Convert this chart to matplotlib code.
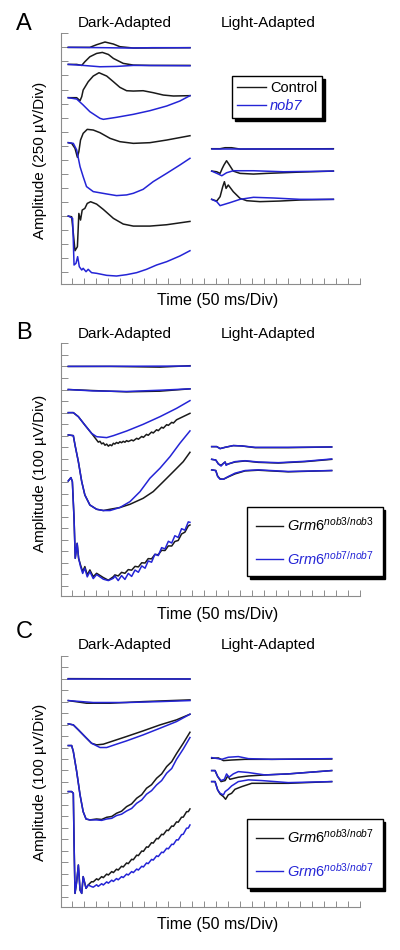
import matplotlib
matplotlib.use('Agg')
import matplotlib.pyplot as plt
from matplotlib.lines import Line2D

plt.rcParams['font.family'] = ['Liberation Sans', 'DejaVu Sans']
plt.rcParams['mathtext.fontset'] = 'custom'
plt.rcParams['mathtext.rm'] = 'Liberation Sans'
plt.rcParams['mathtext.it'] = 'Liberation Sans:italic'

BLACK = '#1a1a1a'
BLUE = '#2424d6'
AXC = '#8c8c8c'

# ---------------- data (time in ms from trace start, amplitude in uV re: baseline)
MS_PER_DIV = 50
DARK_X0 = 0.69    # trace start (time divisions)
LIGHT_X0 = 12.64

# ----- Panel A (250 uV/Div)
A_SCALE = 250
A_dark_base = [17.0, 15.74, 13.42, 10.22, 5.0]
A_light_base = [9.79, 8.20, 6.19]
A_dark_control = [
    ([0, 90, 118, 153, 188, 215, 271, 507], [0, 0, 47, 95, 59, 12, -12, -6]),
    ([0, 35, 56, 69, 90, 118, 142, 167, 188, 229, 271, 340, 507],
     [12, 12, -6, 59, 148, 207, 225, 189, 118, 30, 0, -6, -6]),
    ([0, 35, 49, 56, 62, 83, 104, 128, 160, 188, 215, 243, 271, 312, 354, 396, 438, 507],
     [0, 0, -53, 18, 136, 284, 385, 444, 385, 284, 184, 124, 118, 124, 89, 47, 30, 36]),
    ([0, 14, 28, 38, 44, 51, 62, 79, 104, 132, 174, 215, 271, 340, 410, 507],
     [0, -12, -101, -260, -160, 47, 166, 237, 225, 178, 77, 18, -12, 0, 47, 124]),
    ([0, 14, 21, 28, 38, 44, 51, 58, 69, 79, 93, 118, 146, 188, 229, 271, 340, 410, 507],
     [0, -12, -308, -616, -545, 47, -71, 107, 136, 225, 255, 213, 118, -41, -142, -178, -178, -154, -95]),
]
A_dark_nob7 = [
    ([0, 150, 250, 350, 507], [0, -6, -12, -6, -6]),
    ([0, 62, 132, 201, 271, 507], [12, -6, -30, -24, -6, -12]),
    ([0, 35, 62, 90, 132, 146, 201, 271, 340, 410, 465, 507],
     [0, -24, -130, -249, -367, -385, -349, -296, -231, -148, -59, 36]),
    ([0, 21, 35, 49, 62, 76, 104, 160, 201, 243, 271, 312, 354, 410, 465, 507],
     [0, -12, -130, -426, -604, -781, -870, -912, -941, -929, -900, -829, -692, -545, -397, -278]),
    ([0, 18, 24, 32, 39, 46, 56, 62, 74, 83, 97, 118, 160, 201, 243, 285, 326, 368, 410, 465, 507],
     [0, -41, -870, -841, -722, -900, -959, -929, -989, -947, -1006, -1018, -1054, -1066, -1042,
      -1006, -947, -870, -811, -710, -616]),
]
A_light_control = [
    ([0, 35, 56, 83, 118, 507], [0, 0, 18, 18, -6, 0]),
    ([0, 21, 35, 44, 51, 62, 74, 90, 118, 174, 229, 368, 507],
     [0, -12, -41, 47, 107, 184, 107, 0, -41, -53, -41, -18, 0]),
    ([0, 21, 35, 46, 53, 60, 69, 90, 118, 146, 201, 285, 368, 507],
     [0, -30, 47, 225, 314, 195, 255, 136, 18, -24, -41, -30, -12, 0]),
]
A_light_nob7 = [
    ([0, 507], [0, 0]),
    ([0, 28, 42, 62, 90, 174, 299, 507], [0, -53, -83, -30, 6, 6, -12, 0]),
    ([0, 21, 35, 76, 118, 174, 257, 368, 507], [0, -41, -112, -59, 0, 36, 24, 0, 0]),
]

# ----- Panel B (100 uV/Div)
B_SCALE = 100
B_dark_base = [20.0, 18.0, 16.0, 14.07, 10.09]
B_light_base = [13.06, 11.96, 11.05]
B_dark_nob3 = [
    ([0, 174, 382, 507], [0, 0, -6, 6]),
    ([0, 104, 243, 382, 507], [0, -9, -20, -14, 6]),
    ([0, 21, 42, 69, 97, 118, 125, 132, 139, 146, 153, 160, 167, 174, 181, 188, 194, 201, 208, 215,
      222, 229, 236, 243, 250, 264, 271, 285, 292, 306, 313, 326, 333, 347, 354, 368, 375, 389, 396,
      410, 417, 431, 438, 451, 465, 479, 507],
     [0, 0, -35, -107, -179, -236, -255, -248, -270, -262, -282, -272, -290, -278, -286, -265, -272,
      -258, -266, -252, -260, -248, -256, -242, -250, -236, -244, -222, -230, -206, -214, -188, -196,
      -168, -176, -148, -156, -126, -134, -104, -110, -84, -90, -62, -48, -34, -6]),
    ([0, 21, 28, 42, 56, 69, 90, 118, 146, 174, 215, 257, 312, 354, 396, 438, 479, 507],
     [0, -6, -87, -231, -404, -519, -606, -643, -654, -643, -628, -600, -548, -490, -404, -317, -231, -150]),
    ([0, 11, 17, 24, 29, 37, 43, 51, 60, 69, 79, 90, 104, 118, 146, 167, 188, 194, 208, 222, 236, 250,
      264, 278, 292, 306, 320, 333, 347, 361, 375, 389, 403, 417, 431, 444, 458, 472, 486, 500, 507],
     [0, 29, -6, -323, -669, -540, -669, -727, -784, -741, -813, -770, -828, -799, -836, -859, -828,
      -813, -822, -791, -799, -767, -772, -739, -744, -708, -710, -672, -674, -636, -638, -600, -602,
      -562, -563, -524, -515, -459, -443, -389, -381]),
]
B_dark_nob7 = [
    ([0, 507], [0, 3]),
    ([0, 104, 243, 382, 507], [0, -12, -17, -6, 6]),
    ([0, 21, 42, 69, 97, 118, 160, 188, 243, 312, 382, 451, 507],
     [0, 0, -35, -107, -179, -208, -216, -199, -159, -101, -35, 37, 104]),
    ([0, 21, 28, 42, 56, 69, 90, 118, 146, 174, 215, 257, 299, 340, 382, 424, 465, 507],
     [0, -6, -87, -231, -404, -519, -606, -643, -654, -654, -628, -577, -490, -375, -288, -187, -72, 35]),
    ([0, 11, 17, 24, 29, 37, 43, 51, 60, 69, 79, 90, 104, 118, 146, 167, 188, 194, 208, 222, 236,
      250, 264, 278, 292, 306, 320, 333, 347, 361, 375, 389, 403, 417, 431, 444, 458, 472, 486, 500, 507],
     [0, 29, -6, -323, -669, -540, -669, -740, -800, -755, -830, -785, -845, -810, -850, -862, -842,
      -822, -862, -819, -852, -800, -826, -771, -790, -735, -755, -692, -703, -634, -646, -577, -588,
      -522, -537, -474, -489, -413, -426, -354, -358]),
]
B_light_nob3 = [
    ([0, 21, 35, 56, 90, 125, 181, 319, 500], [0, 0, -17, -6, 9, 6, -9, -9, -3]),
    ([0, 17, 28, 39, 49, 56, 60, 69, 97, 139, 194, 278, 389, 500],
     [0, -6, -40, -52, -35, -23, -46, -40, -23, -14, -26, -32, -20, 0]),
    ([0, 17, 25, 35, 49, 69, 97, 139, 194, 319, 500], [0, -6, -55, -78, -81, -61, -35, -9, -3, -17, -6]),
]
B_light_nob7 = [
    ([0, 21, 35, 56, 90, 125, 181, 319, 500], [0, 0, -17, -6, 9, 6, -6, -6, -3]),
    ([0, 17, 28, 39, 49, 56, 60, 69, 97, 139, 194, 278, 389, 500],
     [0, -6, -40, -58, -35, -23, -52, -40, -20, -12, -23, -29, -17, 3]),
    ([0, 17, 25, 35, 49, 69, 97, 139, 194, 319, 500], [0, -6, -58, -81, -81, -58, -29, -6, 0, -14, -6]),
]

# ----- Panel C (100 uV/Div)
C_SCALE = 100
C_dark_base = [20.0, 18.09, 16.06, 14.17, 10.16]
C_light_base = [13.06, 11.99, 11.03]
C_dark_black = [
    ([0, 507], [0, -3]),
    ([0, 76, 174, 312, 507], [0, -23, -23, -9, 6]),
    ([0, 21, 42, 69, 97, 118, 146, 188, 243, 312, 382, 451, 507],
     [0, -9, -52, -110, -169, -183, -177, -148, -110, -61, -9, 35, 84]),
    ([0, 14, 21, 35, 49, 62, 74, 90, 118, 139, 160, 181, 201, 222, 243, 264, 285, 306, 326, 347, 368,
      389, 410, 431, 451, 479, 507],
     [0, 0, -52, -227, -430, -576, -640, -648, -640, -644, -625, -618, -590, -572, -532, -508, -459,
      -428, -372, -341, -285, -247, -183, -140, -70, 20, 116]),
    ([0, 14, 21, 24, 28, 35, 42, 49, 56, 62, 74, 83, 97, 104, 118, 125, 139, 146, 160, 167, 181, 188,
      201, 208, 222, 229, 243, 250, 264, 271, 285, 292, 306, 313, 326, 333, 347, 354, 368, 375, 389,
      396, 410, 417, 431, 438, 451, 458, 472, 479, 493, 500, 507],
     [0, 0, -15, -436, -887, -785, -640, -858, -887, -741, -843, -814, -785, -787, -760, -770, -741,
      -750, -719, -727, -697, -706, -676, -684, -651, -657, -622, -628, -590, -594, -554, -558, -518,
      -521, -482, -485, -445, -449, -408, -412, -372, -376, -336, -340, -300, -303, -264, -267, -223,
      -223, -175, -175, -151]),
]
C_dark_blue = [
    ([0, 507], [0, 0]),
    ([0, 104, 243, 382, 507], [0, -17, -17, -9, 0]),
    ([0, 21, 42, 69, 97, 132, 160, 201, 243, 312, 382, 451, 507],
     [0, -9, -52, -110, -169, -206, -206, -177, -148, -96, -38, 20, 84]),
    ([0, 14, 21, 35, 49, 62, 74, 90, 118, 139, 160, 181, 201, 222, 243, 264, 285, 306, 326, 347, 368,
      389, 410, 431, 451, 479, 507],
     [0, 0, -52, -227, -430, -576, -640, -648, -648, -652, -640, -634, -610, -598, -570, -548, -503,
      -474, -424, -393, -343, -305, -241, -200, -120, -30, 70]),
    ([0, 14, 21, 24, 28, 35, 42, 49, 56, 62, 74, 83, 97, 104, 118, 125, 139, 146, 160, 167, 181, 188,
      201, 208, 222, 229, 243, 250, 264, 271, 285, 292, 306, 313, 326, 333, 347, 354, 368, 375, 389,
      396, 410, 417, 431, 438, 451, 458, 472, 479, 493, 500, 507],
     [0, 0, -15, -436, -887, -785, -640, -858, -887, -741, -843, -814, -828, -833, -812, -826, -803,
      -814, -787, -798, -772, -783, -758, -769, -741, -749, -719, -727, -697, -706, -675, -684, -651,
      -657, -622, -628, -591, -597, -560, -566, -528, -532, -494, -499, -459, -461, -420, -422, -375,
      -372, -319, -318, -291]),
]
C_light_black = [
    ([0, 28, 49, 83, 139, 250, 500], [0, 3, -20, -15, -9, -9, -6]),
    ([0, 14, 25, 39, 56, 67, 76, 111, 153, 222, 319, 500],
     [0, 0, -52, -96, -87, -47, -76, -58, -47, -38, -29, 0]),
    ([0, 14, 25, 35, 49, 58, 69, 83, 97, 125, 167, 222, 319, 500],
     [0, 0, -73, -108, -131, -154, -116, -102, -67, -44, -15, -15, -15, 0]),
]
C_light_blue = [
    ([0, 42, 69, 111, 153, 250, 500], [6, -9, 9, 15, -3, -9, -3]),
    ([0, 14, 25, 39, 53, 62, 72, 90, 111, 153, 222, 319, 500],
     [0, 0, -52, -87, -76, -29, -58, -29, -9, -17, -38, -29, 0]),
    ([0, 14, 25, 35, 49, 56, 69, 83, 111, 153, 208, 319, 500],
     [0, 0, -73, -102, -116, -87, -67, -38, 0, 15, 9, -9, 0]),
]

# ---------------- figure
W, H = 400, 950
fig = plt.figure(figsize=(4.0, 9.5), dpi=100)


def px_axes(left, top, right, bottom):
    return fig.add_axes([left / W, 1 - bottom / H, (right - left) / W, (bottom - top) / H])


def draw(ax, traces, bases, x0, scale, color, z):
    for (t, a), b in zip(traces, bases):
        ax.plot([x0 + ti / MS_PER_DIV for ti in t], [b + ai / scale for ai in a],
                color=color, lw=1.1, zorder=z, solid_joinstyle='round')


def style(ax, ymin, ymax, nyt):
    ax.set_xlim(0.083, 25)
    ax.set_ylim(ymin, ymax)
    ax.set_xticks(range(1, 26))
    ax.set_yticks(range(1, nyt + 1))
    ax.set_xticklabels([])
    ax.set_yticklabels([])
    for s in ('top', 'right'):
        ax.spines[s].set_visible(False)
    for s in ('left', 'bottom'):
        ax.spines[s].set_color(AXC)
        ax.spines[s].set_linewidth(0.8)
    ax.tick_params(axis='x', direction='in', length=4, width=0.7, color=AXC)
    ax.tick_params(axis='y', direction='in', length=5, width=0.7, color=AXC)
    ax.patch.set_visible(False)


def labels(top_y, letter_y, amp_text, amp_cy, time_cy):
    fig.text(16 / W, 1 - letter_y / H, top_y[0], fontsize=17, ha='left', va='baseline')
    fig.text(125 / W, 1 - top_y[1] / H, 'Dark-Adapted', fontsize=11, ha='center', va='baseline')
    fig.text(268 / W, 1 - top_y[1] / H, 'Light-Adapted', fontsize=11, ha='center', va='baseline')
    fig.text(40 / W, 1 - amp_cy / H, amp_text, fontsize=11, rotation=90, ha='center', va='center')
    fig.text(218 / W, 1 - time_cy / H, 'Time (50 ms/Div)', fontsize=11.5, ha='center', va='center')


def legend(ax, labels_, anchor, fs, hl, ls, bp):
    handles = [Line2D([], [], color=BLACK, lw=1.0), Line2D([], [], color=BLUE, lw=1.0)]
    leg = ax.legend(handles, labels_, loc='upper left', bbox_to_anchor=anchor, frameon=True,
                    fancybox=False, shadow={'facecolor': 'black', 'edgecolor': 'black', 'alpha': 1.0},
                    fontsize=fs, handlelength=hl, handletextpad=0.25, labelspacing=ls,
                    borderpad=bp, borderaxespad=0, framealpha=1.0)
    leg.get_frame().set_edgecolor('black')
    leg.get_frame().set_linewidth(1.0)
    leg.get_texts()[1].set_color(BLUE)
    leg.set_zorder(10)
    return leg


# Panel A
axA = px_axes(61, 33.3, 360, 284.3)
style(axA, 0.147, 18.0, 18)
draw(axA, A_dark_control, A_dark_base, DARK_X0, A_SCALE, BLACK, 2)
draw(axA, A_dark_nob7, A_dark_base, DARK_X0, A_SCALE, BLUE, 3)
draw(axA, A_light_control, A_light_base, LIGHT_X0, A_SCALE, BLACK, 2)
draw(axA, A_light_nob7, A_light_base, LIGHT_X0, A_SCALE, BLUE, 3)
legA = legend(axA, ['Control', 'nob7'], ((232 - 61) / 299, 1 - (76 - 33.3) / 251), 10.5, 2.0, 0.25, 0.35)
legA.get_texts()[1].set_style('italic')
labels(('A', 27), 30, 'Amplitude (250 \u00b5V/Div)', 160, 301)

# Panel B
axB = px_axes(61, 343.3, 360, 596)
style(axB, 0.135, 22.0, 22)
draw(axB, B_dark_nob3, B_dark_base, DARK_X0, B_SCALE, BLACK, 2)
draw(axB, B_dark_nob7, B_dark_base, DARK_X0, B_SCALE, BLUE, 3)
draw(axB, B_light_nob3, B_light_base, LIGHT_X0, B_SCALE, BLACK, 2)
draw(axB, B_light_nob7, B_light_base, LIGHT_X0, B_SCALE, BLUE, 3)
legend(axB, [r'$\mathit{Grm6}^{\mathit{nob3/nob3}}$', r'$\mathit{Grm6}^{\mathit{nob7/nob7}}$'],
       ((247 - 61) / 299, 1 - (507 - 343.3) / 252.7), 10.5, 1.9, 1.1, 0.6)
labels(('B', 338), 339, 'Amplitude (100 \u00b5V/Div)', 473, 614)

# Panel C
axC = px_axes(61, 655.7, 360, 907.3)
style(axC, 0.076, 22.0, 22)
draw(axC, C_dark_black, C_dark_base, DARK_X0, C_SCALE, BLACK, 2)
draw(axC, C_dark_blue, C_dark_base, DARK_X0, C_SCALE, BLUE, 3)
draw(axC, C_light_black, C_light_base, LIGHT_X0, C_SCALE, BLACK, 2)
draw(axC, C_light_blue, C_light_base, LIGHT_X0, C_SCALE, BLUE, 3)
legend(axC, [r'$\mathit{Grm6}^{\mathit{nob3/nob7}}$', r'$\mathit{Grm6}^{\mathit{nob3/nob7}}$'],
       ((247 - 61) / 299, 1 - (819 - 655.7) / 251.6), 10.5, 1.9, 1.1, 0.6)
labels(('C', 649), 638, 'Amplitude (100 \u00b5V/Div)', 782, 924)

fig.savefig('out.png', dpi=100, facecolor='white')
